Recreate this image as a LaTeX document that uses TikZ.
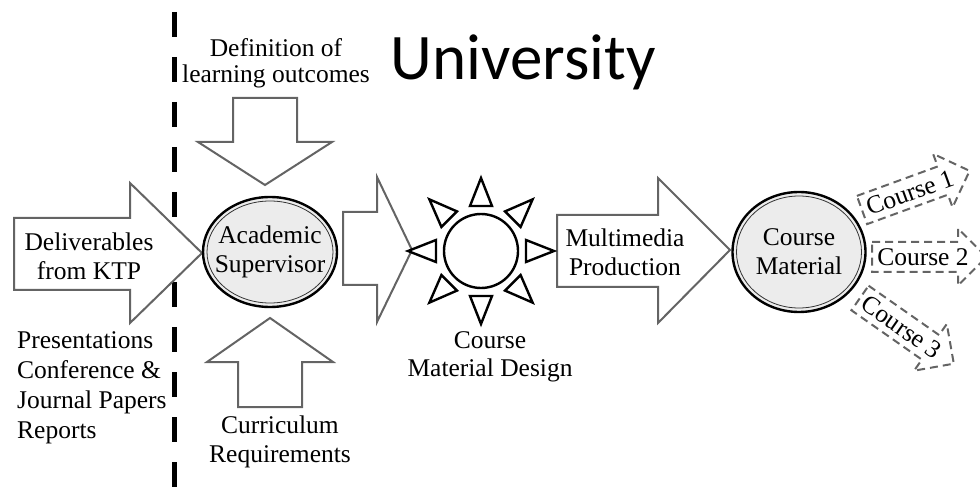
\documentclass[tikz,border=0pt]{standalone}
\usepackage{fontspec}
\setmainfont{Liberation Serif}
\newfontfamily\unifont{Carlito}
\usetikzlibrary{shapes.geometric,calc}
\definecolor{arrowgray}{RGB}{100,100,100}
\definecolor{bubblegray}{RGB}{236,236,236}
\begin{document}
\begin{tikzpicture}[x=1pt,y=-1pt,
 bigarrow/.style={draw=arrowgray, line width=2pt, fill=white, line join=miter},
 dasharrow/.style={draw=arrowgray, line width=2pt, dash pattern=on 8pt off 5pt, line join=miter},
 txt/.style={font=\fontsize{25.5}{29}\selectfont, align=center, inner sep=0pt},
 bubble/.style={ellipse, draw=black, line width=2.4pt, fill=bubblegray, inner sep=0pt},
 inring/.style={draw=black!80, line width=0.8pt},
 ray/.style={draw=black, line width=2.4pt, fill=white, line join=miter},
 border/.style={draw=black, line width=5pt, dash pattern=on 25pt off 20pt},
]
\path[use as bounding box] (0,0) rectangle (980,494);

% boundary
\coordinate (btop) at (174,12);
\coordinate (bbot) at (174,494);
\draw[border] (btop) -- (bbot);

% title
\node[font=\unifont\fontsize{65}{72}\selectfont, anchor=base, inner sep=0pt] (uni) at (523,80) {University};

% big arrows
\draw[bigarrow] (14,218) -- (130,218) -- (130,183) -- (202,253) -- (130,323) -- (130,290) -- (14,290) -- cycle;
\node[txt] (deliv) at (89,256) {Deliverables\\from KTP};

\draw[bigarrow] (233,98) -- (297,98) -- (297,142) -- (332,142) -- (265,185) -- (198,142) -- (233,142) -- cycle;
\node[txt, font=\fontsize{25.5}{26}\selectfont] (defn) at (276,63) {Definition of\\learning outcomes};

\draw[bigarrow] (270,318) -- (333,362) -- (302,362) -- (302,407) -- (238,407) -- (238,362) -- (207,362) -- cycle;
\node[txt] (curr) at (280,442) {Curriculum\\Requirements};

\draw[bigarrow] (343,212) -- (377,212) -- (377,177) -- (412,250) -- (377,322) -- (377,285) -- (343,285) -- cycle;

\draw[bigarrow] (557,215) -- (658,215) -- (658,178) -- (730,250) -- (658,323) -- (658,287) -- (557,287) -- cycle;
\node[txt] (mm) at (625,252) {Multimedia\\Production};

% left list
\node[txt, align=left, anchor=west, font=\fontsize{25.5}{30}\selectfont] (pres) at (17,388) {Presentations\\Conference \&\\Journal Papers\\Reports};

% academic supervisor
\node[bubble, minimum width=134pt, minimum height=110pt] (acad) at (270,252) {};
\draw[inring] (acad.center) ellipse [x radius=63, y radius=51];
\node[txt] (acadt) at (acad.center) {Academic\\Supervisor};

% sun
\coordinate (sun) at (481,251);
\draw[ray] (sun) circle [radius=37];
\foreach \a in {0,45,...,315}{
  \draw[ray] ($(sun)+(\a:45)+(\a+90:11)$) -- ($(sun)+(\a:73)$) -- ($(sun)+(\a:45)+(\a-90:11)$) -- cycle;
}
\node[txt, font=\fontsize{25.5}{28}\selectfont] (cmd) at (490,357) {Course\\Material Design};

% course material
\node[bubble, minimum width=133pt, minimum height=120pt] (cmat) at (799,252) {};
\draw[inring] (cmat.center) ellipse [x radius=62.5, y radius=56];
\node[txt] (cmatt) at (cmat.center) {Course\\Material};

% course arrows
\foreach \sx/\sy/\ang/\lab in {862/210/20/1, 872/257/0/2, 860/298/-35/3}{
  \begin{scope}[shift={(\sx,\sy)}, rotate=\ang]
    \draw[dasharrow] (0,-15) -- (86,-15) -- (86,-28.5) -- (114.5,0) -- (86,28.5) -- (86,15) -- (0,15) -- cycle;
    \node[txt, rotate=\ang] (c\lab) at (51,0) {Course \lab};
  \end{scope}
}
\end{tikzpicture}
\end{document}
